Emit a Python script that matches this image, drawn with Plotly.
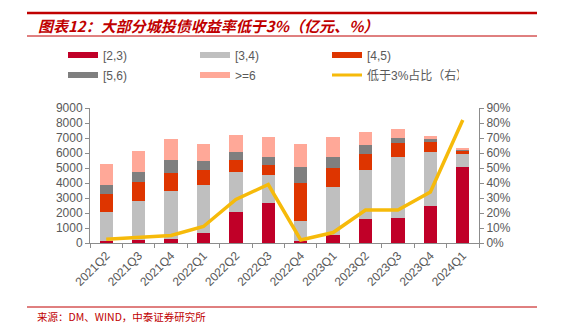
import plotly.graph_objects as go

categories = ['2021Q2', '2021Q3', '2021Q4', '2022Q1', '2022Q2', '2022Q3',
              '2022Q4', '2023Q1', '2023Q2', '2023Q3', '2023Q4', '2024Q1']
s_2_3 = [110, 200, 290, 690, 2080, 2700, 130, 510, 1630, 1700, 2460, 5070]
s_3_4 = [1970, 2610, 3170, 3150, 2650, 1830, 1320, 3220, 3210, 4040, 3630, 890]
s_4_5 = [1200, 1270, 1180, 1050, 810, 690, 2570, 1250, 1120, 910, 630, 220]
s_5_6 = [600, 670, 900, 580, 550, 540, 1070, 730, 580, 380, 270, 40]
s_ge6 = [1390, 1410, 1400, 1140, 1080, 1290, 1520, 1340, 890, 600, 130, 80]
share_below3 = [0.025, 0.04, 0.05, 0.11, 0.29, 0.39, 0.02, 0.07, 0.22, 0.22, 0.34, 0.82]

bar_series = [
    ('[2,3)', s_2_3, '#C00028'),
    ('[3,4)', s_3_4, '#BFBFBF'),
    ('[4,5)', s_4_5, '#DE3500'),
    ('[5,6)', s_5_6, '#7F7F7F'),
    ('>=6', s_ge6, '#FFA898'),
]
line_name = '低于3%占比（右）'
line_color = '#F6BA0A'

fig = go.Figure()
for name, vals, col in bar_series:
    fig.add_trace(go.Bar(x=categories, y=vals, name=name, marker_color=col,
                         marker_line_width=0, showlegend=False, legendgroup=name))
fig.add_trace(go.Scatter(x=categories, y=share_below3, name=line_name, yaxis='y2',
                         mode='lines', line=dict(color=line_color, width=3.5),
                         showlegend=False, legendgroup=line_name))

# legend entries (row 1 -> legend, row 2 -> legend2)
legend_items = [(n, c, 6) for n, _, c in bar_series] + [(line_name, line_color, 3)]
for i, (name, col, w) in enumerate(legend_items):
    fig.add_trace(go.Scatter(x=[None], y=[None], mode='lines', name=name,
                             line=dict(color=col, width=w), legendgroup=name,
                             legend='legend' if i < 3 else 'legend2'))

axis_font = dict(family='Liberation Sans, Arial', size=12, color='#595959')
legend_common = dict(orientation='h', xanchor='left', yanchor='middle',
                     font=dict(family='Liberation Sans, Noto Sans CJK SC', size=12, color='#595959'),
                     bgcolor='rgba(0,0,0,0)', entrywidth=87, entrywidthmode='pixels',
                     itemwidth=30, tracegroupgap=0, traceorder='normal')

fig.update_layout(
    width=564, height=324,
    margin=dict(l=90, r=85, t=108, b=81),
    paper_bgcolor='white', plot_bgcolor='white',
    barmode='stack', bargap=0.59,
    showlegend=True,
    legend=dict(x=(63 - 90) / 389, y=(243 - 55) / 135, **legend_common),
    legend2=dict(x=(63 - 90) / 389, y=(243 - 75) / 135, **legend_common),
    xaxis=dict(type='category', showline=True, linecolor='#8C8C8C', linewidth=1,
               ticks='outside', tickson='boundaries', ticklen=4, tickcolor='#8C8C8C',
               tickangle=-45, tickfont=dict(family='Liberation Sans, Arial', size=12, color='#595959'),
               showgrid=False, zeroline=False),
    yaxis=dict(range=[0, 9000], dtick=1000, showline=True, linecolor='#8C8C8C',
               ticks='outside', ticklen=4, tickcolor='#8C8C8C', tickfont=axis_font,
               showgrid=False, zeroline=False),
    yaxis2=dict(range=[0, 0.9], dtick=0.1, tickformat='.0%', overlaying='y', side='right',
                showline=True, linecolor='#8C8C8C', ticks='outside', ticklen=4,
                tickcolor='#8C8C8C', tickfont=axis_font, showgrid=False, zeroline=False),
    shapes=[
        dict(type='line', xref='paper', yref='paper', x0=-63 / 389, x1=(537 - 90) / 389,
             y0=1 + (108 - 13) / 135, y1=1 + (108 - 13) / 135, line=dict(color='#C00000', width=2.5)),
        dict(type='line', xref='paper', yref='paper', x0=-63 / 389, x1=(537 - 90) / 389,
             y0=1 + (108 - 36) / 135, y1=1 + (108 - 36) / 135, line=dict(color='#C00000', width=1)),
        dict(type='line', xref='paper', yref='paper', x0=-63 / 389, x1=(537 - 90) / 389,
             y0=-(307 - 243) / 135, y1=-(307 - 243) / 135, line=dict(color='#C00000', width=1)),
    ],
    annotations=[
        dict(text='<b><i>图表12：大部分城投债收益率低于3%（亿元、%）</i></b>', xref='paper', yref='paper',
             x=(36 - 90) / 389, y=1 + (108 - 25) / 135, xanchor='left', yanchor='middle',
             showarrow=False, font=dict(family='Noto Sans CJK SC', size=15, color='#C00000')),
        dict(text='来源：DM、WIND，中泰证券研究所', xref='paper', yref='paper',
             x=(35 - 90) / 389, y=-(316 - 243) / 135, xanchor='left', yanchor='middle',
             showarrow=False, font=dict(family='Noto Sans CJK SC, Liberation Sans', size=10.5, color='#C00000')),
    ],
)

fig.write_html('out.html')
